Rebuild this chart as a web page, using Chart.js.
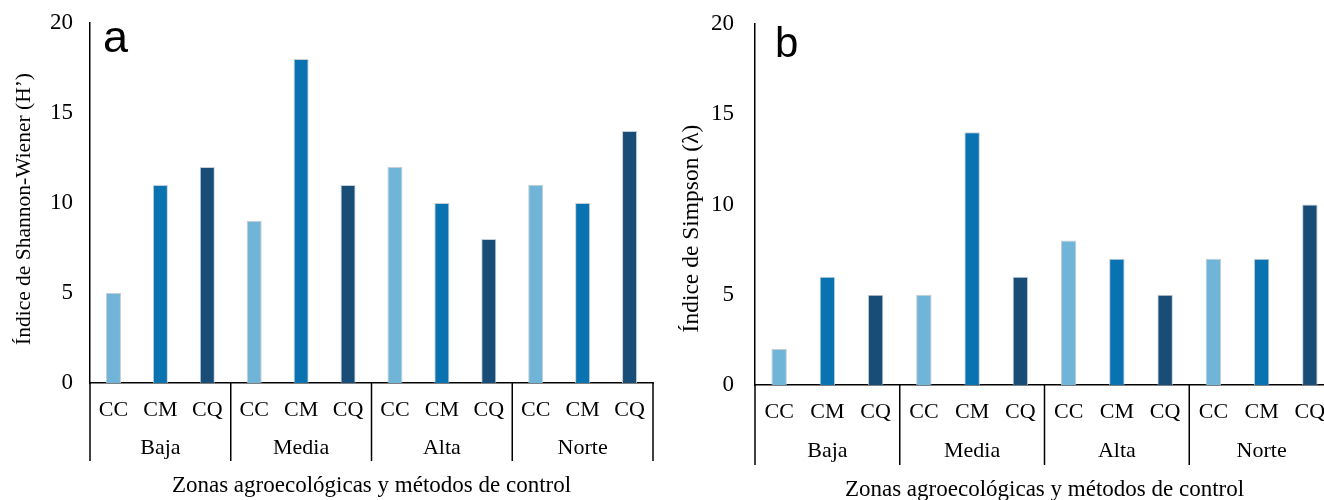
<!DOCTYPE html>
<html>
<head>
<meta charset="utf-8">
<script src="https://cdn.jsdelivr.net/npm/chart.js@4.4.0/dist/chart.umd.min.js"></script>
<style>
  html, body { margin: 0; padding: 0; background: #fff; overflow: hidden; width: 1324px; height: 500px; }
  #wrapA { position: absolute; left: 0; top: 0; width: 662px; height: 500px; }
  #wrapB { position: absolute; left: 662px; top: 0; width: 680px; height: 504px; }
</style>
</head>
<body>
<div id="wrapA"><canvas id="chartA" width="662" height="500"></canvas></div>
<div id="wrapB"><canvas id="chartB" width="680" height="504"></canvas></div>
<script>
// zones and control methods
const zones = ['Baja', 'Media', 'Alta', 'Norte'];
const methods = ['CC', 'CM', 'CQ'];
const methodColors = ['#70b4d8', '#0873b0', '#184d78'];
const yTicks = [0, 5, 10, 15, 20];

// values in order Baja CC, CM, CQ, Media CC, ...
const shannon = [5, 11, 12, 9, 18, 11, 12, 10, 8, 11, 10, 14];
const simpson = [2, 6, 5, 5, 14, 6, 8, 7, 5, 7, 7, 10];

const SERIF = "'Liberation Serif', 'Times New Roman', serif";
const SANS = "'Liberation Sans', Arial, sans-serif";

// group separators under the axis, y title and panel letter
const groupLines = {
  id: 'groupLines',
  afterDraw(chart, args, opts) {
    const x2 = chart.scales.x2;
    const area = chart.chartArea;
    const ctx = chart.ctx;
    ctx.save();
    ctx.strokeStyle = '#000';
    ctx.lineWidth = 1.5;
    for (let g = 0; g <= zones.length; g++) {
      const px = x2.getPixelForValue(g - 0.5);
      ctx.beginPath();
      ctx.moveTo(px, area.bottom);
      ctx.lineTo(px, x2.top + opts.length);
      ctx.stroke();
    }
    ctx.fillStyle = '#000';
    ctx.font = opts.letterFont;
    ctx.textBaseline = 'alphabetic';
    ctx.fillText(opts.letter, area.left + opts.letterDx, area.top + opts.letterDy);

    // y axis title (a bit below the plot centre, as in the figure)
    ctx.translate(opts.titleX, (area.top + area.bottom) / 2 + opts.titleDy);
    ctx.rotate(-Math.PI / 2);
    ctx.font = opts.titleFont;
    ctx.textAlign = 'center';
    ctx.textBaseline = 'middle';
    ctx.fillText(opts.title, 0, 0);
    ctx.restore();
  }
};

function makeChart(id, values, cfg) {
  return new Chart(document.getElementById(id), {
    type: 'bar',
    data: {
      labels: zones.flatMap(() => methods),
      datasets: [{
        data: values,
        backgroundColor: c => methodColors[c.dataIndex % methods.length],
        borderColor: 'rgba(190,200,208,0.9)',
        borderWidth: 1,
        barPercentage: 0.32,
        categoryPercentage: 1
      }]
    },
    options: {
      responsive: false,
      animation: false,
      layout: { padding: { left: 0, right: cfg.padRight, top: cfg.padTop, bottom: 0 } },
      plugins: {
        legend: { display: false },
        tooltip: { enabled: false },
        groupLines: cfg.lines
      },
      scales: {
        y: {
          min: 0,
          max: 20,
          afterBuildTicks: s => { s.ticks = yTicks.map(v => ({ value: v })); },
          afterFit: s => { s.width = cfg.yWidth; },
          // tick marks hidden, tickLength only used as label gap
          grid: { display: false, drawTicks: true, tickLength: cfg.yPad },
          border: { color: '#000', width: 1.5 },
          ticks: { color: '#000', padding: 0, font: { family: SERIF, size: cfg.yFont } }
        },
        x: {
          weight: 0,
          afterFit: s => { s.height = 48; },
          grid: { display: false, drawTicks: false },
          border: { color: '#000', width: 1.5 },
          ticks: { color: '#000', padding: cfg.xPad, maxRotation: 0, autoSkip: false, font: { family: SERIF, size: 22 } }
        },
        x2: {
          type: 'category',
          position: 'bottom',
          weight: 1,
          labels: zones,
          offset: true,
          afterFit: s => { s.height = cfg.x2Height; },
          grid: { display: false, drawTicks: false },
          border: { display: false },
          ticks: { color: '#000', padding: cfg.zonePad, maxRotation: 0, font: { family: SERIF, size: 22 } },
          title: {
            display: true,
            text: 'Zonas agroecológicas y métodos de control',
            color: '#000',
            padding: { top: 0, bottom: 0 },
            font: { family: SERIF, size: 23 }
          }
        }
      }
    },
    plugins: [groupLines]
  });
}

makeChart('chartA', shannon, {
  yWidth: 90, yPad: 17, yFont: 23,
  padTop: 23, padRight: 9,
  xPad: 14, zonePad: 4, x2Height: 69,
  lines: {
    length: 30, letter: 'a', letterFont: '45px ' + SANS, letterDx: 13, letterDy: 29,
    title: 'Índice de Shannon-Wiener (H’)', titleFont: '21.5px ' + SERIF, titleX: 24, titleDy: 6
  }
});

makeChart('chartB', simpson, {
  yWidth: 93, yPad: 21, yFont: 23,
  padTop: 24, padRight: 8,
  xPad: 14, zonePad: 5, x2Height: 71,
  lines: {
    length: 32, letter: 'b', letterFont: '42px ' + SANS, letterDx: 20, letterDy: 33,
    title: 'Índice de Simpson (λ)', titleFont: '23.5px ' + SERIF, titleX: 30, titleDy: 24
  }
});
</script>
</body>
</html>
